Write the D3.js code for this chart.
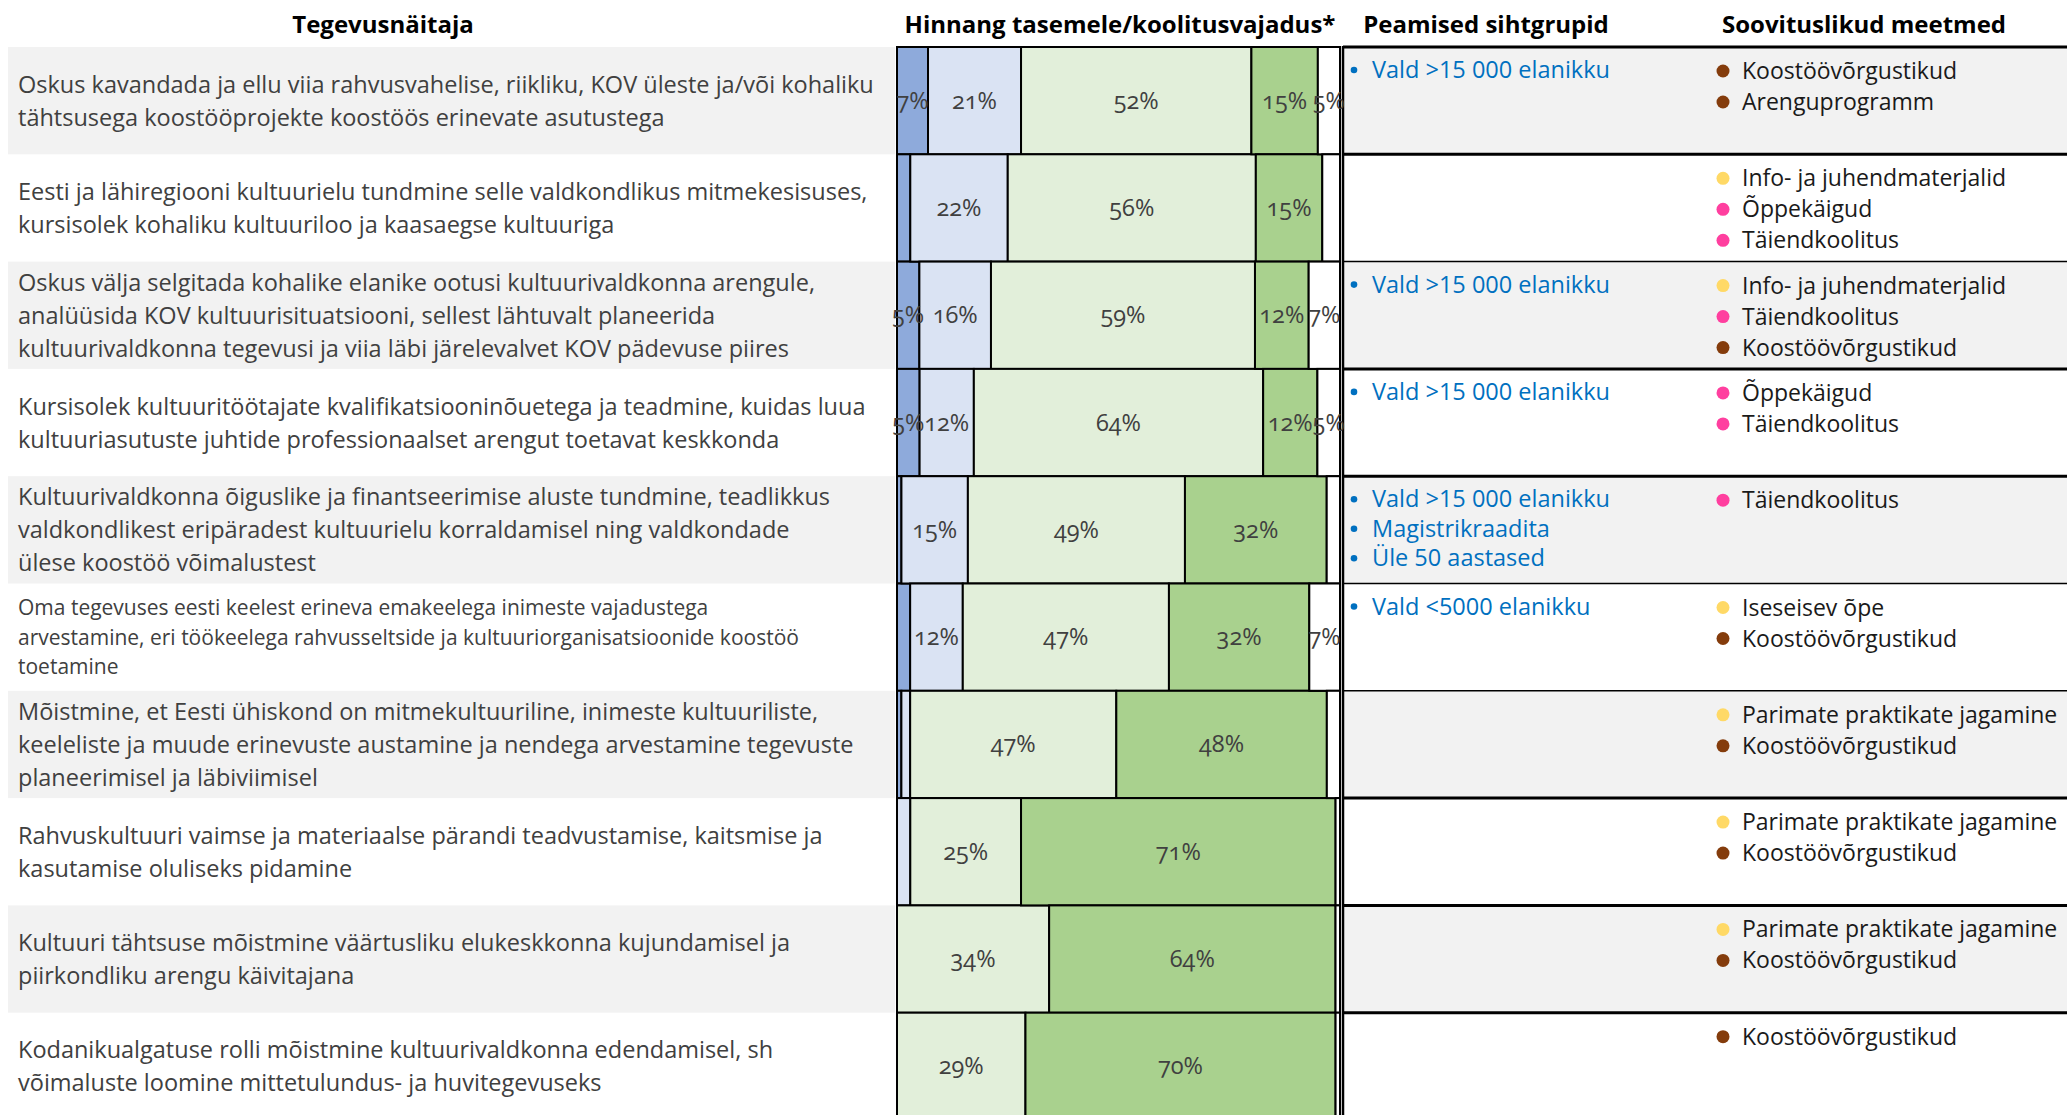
<!DOCTYPE html>
<html>
<head>
<meta charset="utf-8">
<script src="https://cdn.jsdelivr.net/npm/d3@7"></script>
<style>
  body { margin: 0; background: #fff; }
  text { font-family: "Open Sans", "Noto Sans", sans-serif; }
</style>
</head>
<body>
<div></div>
<script>
var width = 2067;
var height = 1115;

// tegevusnaitajad (one entry per row, split into the lines as shown)
var indicators = [
    ['Oskus kavandada ja ellu viia rahvusvahelise, riikliku, KOV üleste ja/või kohaliku',
     'tähtsusega koostööprojekte koostöös erinevate asutustega'],
    ['Eesti ja lähiregiooni kultuurielu tundmine selle valdkondlikus mitmekesisuses,',
     'kursisolek kohaliku kultuuriloo ja kaasaegse kultuuriga'],
    ['Oskus välja selgitada kohalike elanike ootusi kultuurivaldkonna arengule,',
     'analüüsida KOV kultuurisituatsiooni, sellest lähtuvalt planeerida',
     'kultuurivaldkonna tegevusi ja viia läbi järelevalvet KOV pädevuse piires'],
    ['Kursisolek kultuuritöötajate kvalifikatsiooninõuetega ja teadmine, kuidas luua',
     'kultuuriasutuste juhtide professionaalset arengut toetavat keskkonda'],
    ['Kultuurivaldkonna õiguslike ja finantseerimise aluste tundmine, teadlikkus',
     'valdkondlikest eripäradest kultuurielu korraldamisel ning valdkondade',
     'ülese koostöö võimalustest'],
    ['Oma tegevuses eesti keelest erineva emakeelega inimeste vajadustega',
     'arvestamine, eri töökeelega rahvusseltside ja kultuuriorganisatsioonide koostöö',
     'toetamine'],
    ['Mõistmine, et Eesti ühiskond on mitmekultuuriline, inimeste kultuuriliste,',
     'keeleliste ja muude erinevuste austamine ja nendega arvestamine tegevuste',
     'planeerimisel ja läbiviimisel'],
    ['Rahvuskultuuri vaimse ja materiaalse pärandi teadvustamise, kaitsmise ja',
     'kasutamise oluliseks pidamine'],
    ['Kultuuri tähtsuse mõistmine väärtusliku elukeskkonna kujundamisel ja',
     'piirkondliku arengu käivitajana'],
    ['Kodanikualgatuse rolli mõistmine kultuurivaldkonna edendamisel, sh',
     'võimaluste loomine mittetulundus- ja huvitegevuseks']
];

// hinnang tasemele, % per row
var level1 = [7, 3, 5, 5, 1, 3, 1, 0, 0, 0];
var level2 = [21, 22, 16, 12, 15, 12, 2, 3, 0, 0];
var level3 = [52, 56, 59, 64, 49, 47, 47, 25, 34, 29];
var level4 = [15, 15, 12, 12, 32, 32, 48, 71, 64, 70];
var level5 = [5, 4, 7, 5, 3, 7, 3, 1, 1, 1];

var targetGroups = [
    ['Vald >15 000 elanikku'],
    [],
    ['Vald >15 000 elanikku'],
    ['Vald >15 000 elanikku'],
    ['Vald >15 000 elanikku', 'Magistrikraadita', 'Üle 50 aastased'],
    ['Vald <5000 elanikku'],
    [], [], [], []
];

var measures = [
    ['Koostöövõrgustikud', 'Arenguprogramm'],
    ['Info- ja juhendmaterjalid', 'Õppekäigud', 'Täiendkoolitus'],
    ['Info- ja juhendmaterjalid', 'Täiendkoolitus', 'Koostöövõrgustikud'],
    ['Õppekäigud', 'Täiendkoolitus'],
    ['Täiendkoolitus'],
    ['Iseseisev õpe', 'Koostöövõrgustikud'],
    ['Parimate praktikate jagamine', 'Koostöövõrgustikud'],
    ['Parimate praktikate jagamine', 'Koostöövõrgustikud'],
    ['Parimate praktikate jagamine', 'Koostöövõrgustikud'],
    ['Koostöövõrgustikud']
];

var headers = ['Tegevusnäitaja', 'Hinnang tasemele/koolitusvajadus*', 'Peamised sihtgrupid', 'Soovituslikud meetmed'];

var keys = ['level1', 'level2', 'level3', 'level4', 'level5'];
var data = indicators.map(function (d, i) {
    return { row: i, level1: level1[i], level2: level2[i], level3: level3[i], level4: level4[i], level5: level5[i] };
});

var svg = d3.select('div')
    .append('svg').attr('width', width).attr('height', height);

var top0 = 47;
var rowH = 107.3;
var barLeft = 897, barRight = 1340;
var tableLeft = 1343;

var y = d3.scaleBand()
    .domain(d3.range(indicators.length))
    .range([top0, top0 + rowH * indicators.length])
    .padding(0);

var x = d3.scaleLinear().domain([0, 1]).range([barLeft, barRight]);

var z = d3.scaleOrdinal()
    .domain(keys)
    .range(['#8eaadb', '#dae3f3', '#e2efda', '#a9d18e', '#ffffff']);

var dot = d3.scaleOrdinal()
    .domain(['Koostöövõrgustikud', 'Arenguprogramm', 'Info- ja juhendmaterjalid', 'Iseseisev õpe',
             'Parimate praktikate jagamine', 'Õppekäigud', 'Täiendkoolitus'])
    .range(['#843c0c', '#843c0c', '#ffd966', '#ffd966', '#ffd966', '#ff3f9f', '#ff3f9f']);

// striped row backgrounds
var bg = svg.append('g');
bg.selectAll('rect.left')
    .data(data.filter(function (d) { return d.row % 2 === 0; }))
    .enter().append('rect')
    .attr('x', 8).attr('width', 887)
    .attr('y', function (d) { return y(d.row); })
    .attr('height', y.bandwidth())
    .attr('fill', '#f2f2f2');
bg.selectAll('rect.right')
    .data(data.filter(function (d) { return d.row % 2 === 0; }))
    .enter().append('rect')
    .attr('x', tableLeft).attr('width', width - tableLeft)
    .attr('y', function (d) { return y(d.row); })
    .attr('height', y.bandwidth())
    .attr('fill', '#f2f2f2');

// headers
var headerX = [383, 1120, 1486, 1864];
svg.append('g').selectAll('text')
    .data(headers)
    .enter().append('text')
    .attr('x', function (d, i) { return headerX[i]; })
    .attr('y', 33)
    .attr('text-anchor', 'middle')
    .attr('font-size', 24)
    .attr('font-weight', 700)
    .attr('fill', '#000')
    .text(function (d) { return d; });

// indicator text
var left = svg.append('g');
indicators.forEach(function (lines, i) {
    var fs = i === 5 ? 21 : 23.5;
    var lh = i === 5 ? 29.5 : 33;
    var cy = y(i) + y.bandwidth() / 2;
    var first = cy - (lines.length - 1) * lh / 2 + fs * 0.36;
    var t = left.append('text')
        .attr('font-size', fs)
        .attr('fill', '#404040');
    lines.forEach(function (l, j) {
        t.append('tspan').attr('x', 18).attr('y', first + j * lh).text(l);
    });
});

// stacked 100% bars
var series = d3.stack().keys(keys).offset(d3.stackOffsetExpand)(data);

var segs = [];
series.forEach(function (s) {
    s.forEach(function (p) {
        var v = p.data[s.key];
        if (v > 0) segs.push({ key: s.key, value: v, row: p.data.row, x0: p[0], x1: p[1] });
    });
});

svg.append('g')
    .selectAll('rect')
    .data(segs)
    .enter().append('rect')
    .attr('x', function (d) { return x(d.x0); })
    .attr('y', function (d) { return y(d.row); })
    .attr('width', function (d) { return x(d.x1) - x(d.x0); })
    .attr('height', y.bandwidth())
    .attr('fill', function (d) { return z(d.key); })
    .attr('stroke', '#000')
    .attr('stroke-width', 2);

// table rules on the right
var rules = svg.append('g').attr('stroke', '#000');
var thin = [2, 5, 6];
rules.selectAll('line.h')
    .data(d3.range(indicators.length + 1))
    .enter().append('line')
    .attr('x1', tableLeft).attr('x2', width)
    .attr('y1', function (d) { return top0 + d * rowH; })
    .attr('y2', function (d) { return top0 + d * rowH; })
    .attr('stroke-width', function (d) { return thin.indexOf(d) >= 0 ? 1.5 : 3; });
rules.append('line')
    .attr('x1', tableLeft).attr('x2', tableLeft)
    .attr('y1', top0 - 1).attr('y2', height)
    .attr('stroke-width', 2.5);

// value labels on top of everything
svg.append('g')
    .selectAll('text')
    .data(segs.filter(function (d) { return d.value >= 5; }))
    .enter().append('text')
    .attr('x', function (d) { return (x(d.x0) + x(d.x1)) / 2; })
    .attr('y', function (d) { return y(d.row) + y.bandwidth() / 2 + 8; })
    .attr('text-anchor', 'middle')
    .attr('font-size', 23.5)
    .style('font-feature-settings', '"onum"')
    .attr('fill', '#404040')
    .text(function (d) { return d.value + '%'; });

// peamised sihtgrupid
var groups = svg.append('g');
targetGroups.forEach(function (list, i) {
    var g = groups.append('g');
    g.selectAll('circle')
        .data(list).enter().append('circle')
        .attr('cx', 1354)
        .attr('cy', function (d, j) { return y(i) + 31 + j * 29.5 - 8; })
        .attr('r', 3.3)
        .attr('fill', '#0070c0');
    g.selectAll('text')
        .data(list).enter().append('text')
        .attr('x', 1372)
        .attr('y', function (d, j) { return y(i) + 31 + j * 29.5; })
        .attr('font-size', 23.5)
        .attr('fill', '#0070c0')
        .text(function (d) { return d; });
});

// soovituslikud meetmed
var meas = svg.append('g');
measures.forEach(function (list, i) {
    var g = meas.append('g');
    g.selectAll('circle')
        .data(list).enter().append('circle')
        .attr('cx', 1723)
        .attr('cy', function (d, j) { return y(i) + 32 + j * 31 - 8; })
        .attr('r', 6.5)
        .attr('fill', function (d) { return dot(d); });
    g.selectAll('text')
        .data(list).enter().append('text')
        .attr('x', 1742)
        .attr('y', function (d, j) { return y(i) + 32 + j * 31; })
        .attr('font-size', 23)
        .attr('fill', '#1a1a1a')
        .text(function (d) { return d; });
});
</script>
</body>
</html>
